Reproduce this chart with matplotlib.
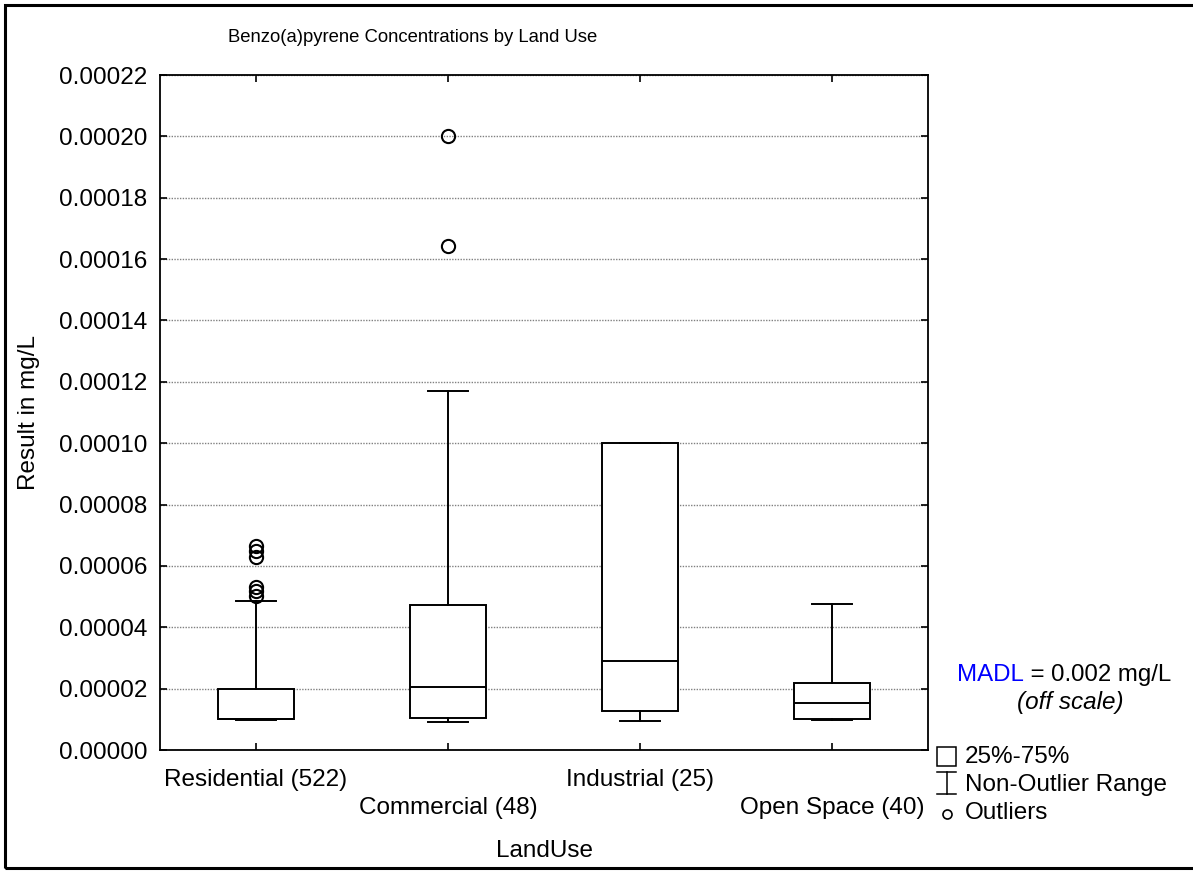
import matplotlib
matplotlib.use("Agg")
import matplotlib.pyplot as plt
from matplotlib.lines import Line2D
from matplotlib.patches import Rectangle

plt.rcParams['font.family'] = ['Liberation Sans', 'DejaVu Sans']

# ---------------- data ----------------
categories = ["Residential (522)", "Commercial (48)", "Industrial (25)", "Open Space (40)"]
whislo = [0.0000098, 0.0000092, 0.0000096, 0.0000098]
q1 = [0.0000100, 0.0000104, 0.0000127, 0.0000100]
medians = [0.0000100, 0.0000206, 0.0000290, 0.0000152]
q3 = [0.0000200, 0.0000472, 0.0001000, 0.0000218]
whishi = [0.0000487, 0.0001171, 0.0001000, 0.0000476]
outliers = [
    [0.0000502, 0.0000517, 0.0000531, 0.0000629, 0.0000648, 0.0000666],
    [0.0001642, 0.0002000],
    [],
    [],
]
y_ticks = [0.0, 0.00002, 0.00004, 0.00006, 0.00008, 0.00010, 0.00012,
           0.00014, 0.00016, 0.00018, 0.00020, 0.00022]

title = "Benzo(a)pyrene Concentrations by Land Use"
xlabel = "LandUse"
ylabel = "Result in mg/L"

# ---------------- figure ----------------
W, H = 1193, 871
fig = plt.figure(figsize=(W / 100, H / 100), dpi=100)

def fx(px):
    return px / W

def fy(py):
    return 1 - py / H

ax = fig.add_axes([fx(160), fy(750), fx(928) - fx(160), fy(75) - fy(750)])

stats = []
for i in range(len(categories)):
    stats.append(dict(label=categories[i], whislo=whislo[i], q1=q1[i], med=medians[i],
                      q3=q3[i], whishi=whishi[i], fliers=outliers[i]))

positions = list(range(1, len(categories) + 1))
lw = 1.4
ax.bxp(stats, positions=positions, widths=0.4, capwidths=0.21, patch_artist=True,
       boxprops=dict(facecolor='white', edgecolor='black', linewidth=lw),
       medianprops=dict(color='black', linewidth=lw),
       whiskerprops=dict(color='black', linewidth=lw),
       capprops=dict(color='black', linewidth=lw),
       flierprops=dict(marker='o', markerfacecolor='none', markeredgecolor='black',
                       markersize=9.5, markeredgewidth=1.5),
       zorder=3)

ax.set_xlim(0.5, 4.5)
ax.set_ylim(0, 0.00022)
ax.set_yticks(y_ticks)
ax.set_yticklabels([f"{v:.5f}" for v in y_ticks])
ax.set_xticks(positions)
ax.set_xticklabels([c if i % 2 == 0 else "\n" + c for i, c in enumerate(categories)])
for lab in ax.get_xticklabels():
    lab.set_linespacing(1.38)

ax.yaxis.grid(True, linestyle=(0, (1, 1)), color='#808080', linewidth=1.0, zorder=0)
ax.set_axisbelow(True)

ax.tick_params(axis='both', direction='in', length=5, width=1.2, labelsize=17.5,
               top=True, right=True, colors='black')
ax.tick_params(axis='x', pad=13.5)
ax.tick_params(axis='y', pad=9)
for s in ax.spines.values():
    s.set_linewidth(1.3)

ax.set_xlabel(xlabel, fontsize=17.5, labelpad=15)
ax.set_ylabel(ylabel, fontsize=17.5, labelpad=14)

# title (left-offset as in reference)
fig.text(fx(413), fy(37), title, fontsize=13.3, ha='center', va='center')

# MADL annotation
madl_y = fy(675)
t1 = fig.text(fx(957), madl_y, "MADL", color='#0000ff', fontsize=17.3, ha='left', va='center')
fig.canvas.draw()
bb = t1.get_window_extent()
fig.text(bb.x1 / W, madl_y, " = 0.002 mg/L", color='black', fontsize=17.3, ha='left', va='center')
fig.text(fx(1070), fy(703), "(off scale)", fontsize=17.5, style='italic', ha='center', va='center')

# legend glyphs
fig.add_artist(Rectangle((fx(937), fy(766)), fx(956) - fx(937), fy(747) - fy(766),
                         transform=fig.transFigure, fill=False, edgecolor='black', linewidth=1.1))
fig.text(fx(965), fy(757), "25%-75%", fontsize=17.5, ha='left', va='center')
cx = fx(946.5)
fig.add_artist(Line2D([cx, cx], [fy(772), fy(794)], transform=fig.transFigure, color='black', lw=1.1))
fig.add_artist(Line2D([fx(937), fx(956)], [fy(772), fy(772)], transform=fig.transFigure, color='black', lw=1.1))
fig.add_artist(Line2D([fx(937), fx(956)], [fy(794), fy(794)], transform=fig.transFigure, color='black', lw=1.1))
fig.text(fx(965), fy(785), "Non-Outlier Range", fontsize=17.5, ha='left', va='center')
fig.add_artist(Line2D([fx(947)], [fy(814)], transform=fig.transFigure, marker='o', markersize=6.5,
                      markerfacecolor='none', markeredgecolor='black', markeredgewidth=1.2))
fig.text(fx(965), fy(813), "Outliers", fontsize=17.5, ha='left', va='center')

# outer frame
fig.add_artist(Rectangle((fx(5), fy(868)), fx(1200) - fx(5), fy(5) - fy(868),
                         transform=fig.transFigure, fill=False, edgecolor='black', linewidth=2.2))

fig.savefig("out.png", dpi=100)
